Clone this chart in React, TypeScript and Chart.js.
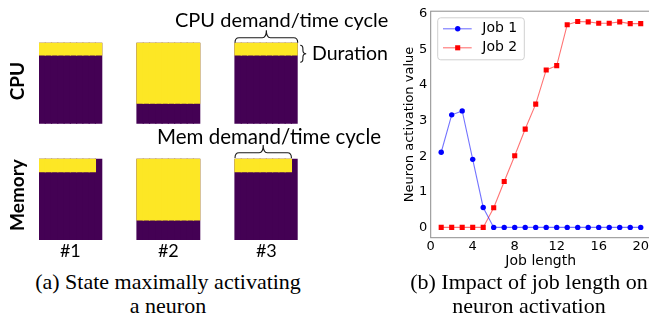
import React, { useEffect, useRef } from 'react';
import { Chart, registerables } from 'chart.js';

Chart.register(...registerables);

// ---------- Panel (a): state image (rows = time cycles, columns = resource units) ----------
const STATES = ['#1', '#2', '#3'];
const RESOURCES = ['CPU', 'Memory'];
const RESOURCE_UNITS = 10;
const TIME_HORIZON = 20;
// occupied time cycles per resource unit (column), for each state
const CPU_USED_ROWS = [
  [3, 3, 3, 3, 3, 3, 3, 3, 3, 3],
  [15, 15, 15, 15, 15, 15, 15, 15, 15, 15],
  [3, 3, 3, 3, 3, 3, 3, 3, 3, 3],
];
const MEM_USED_ROWS = [
  [3, 3, 3, 3, 3, 3, 3, 3, 3, 0],
  [15, 15, 15, 15, 15, 15, 15, 15, 15, 15],
  [3, 3, 3, 3, 3, 3, 3, 3, 3, 0],
];

// ---------- Panel (b): neuron activation vs job length ----------
const JOB_LENGTH = [1, 2, 3, 4, 5, 6, 7, 8, 9, 10, 11, 12, 13, 14, 15, 16, 17, 18, 19, 20];
const JOB1_ACTIVATION = [2.11, 3.16, 3.27, 1.91, 0.56, 0, 0, 0, 0, 0, 0, 0, 0, 0, 0, 0, 0, 0, 0, 0];
const JOB2_ACTIVATION = [0, 0, 0, 0, 0, 0.55, 1.29, 2.01, 2.76, 3.46, 4.42, 4.54, 5.69, 5.78, 5.77, 5.73, 5.73, 5.77, 5.72, 5.72];
const X_TICKS = [0, 4, 8, 12, 16, 20];
const Y_TICKS = [0, 1, 2, 3, 4, 5, 6];

// layout constants (in data units of panel (a))
const STATE_SPACING = 15.63;
const ROW_GAP = 9;

const PURPLE = '#440154';
const YELLOW = '#fde725';

function drawHBrace(ctx: CanvasRenderingContext2D, x0: number, x1: number, yBase: number, h: number) {
  const xm = (x0 + x1) / 2;
  const yMid = yBase - h * 0.4;
  const yTip = yBase - h;
  const q = 4;
  ctx.beginPath();
  ctx.moveTo(x0, yBase);
  ctx.quadraticCurveTo(x0, yMid, x0 + q, yMid);
  ctx.lineTo(xm - q, yMid);
  ctx.quadraticCurveTo(xm, yMid, xm, yTip);
  ctx.quadraticCurveTo(xm, yMid, xm + q, yMid);
  ctx.lineTo(x1 - q, yMid);
  ctx.quadraticCurveTo(x1, yMid, x1, yBase);
  ctx.stroke();
}

function drawVBrace(ctx: CanvasRenderingContext2D, x: number, y0: number, y1: number, w: number) {
  const ym = (y0 + y1) / 2;
  const xMid = x + w * 0.45;
  const xTip = x + w;
  const q = 3.5;
  ctx.beginPath();
  ctx.moveTo(x, y0);
  ctx.quadraticCurveTo(xMid, y0, xMid, y0 + q);
  ctx.lineTo(xMid, ym - q);
  ctx.quadraticCurveTo(xMid, ym, xTip, ym);
  ctx.quadraticCurveTo(xMid, ym, xMid, ym + q);
  ctx.lineTo(xMid, y1 - q);
  ctx.quadraticCurveTo(xMid, y1, x, y1);
  ctx.stroke();
}

const bracePlugin = {
  id: 'braces',
  afterDatasetsDraw(chart: any) {
    const { ctx } = chart;
    const xs = chart.scales.x;
    const ys = chart.scales.y;
    const last = STATES.length - 1;
    const cpuTop = 2 * TIME_HORIZON + ROW_GAP;
    const memTop = TIME_HORIZON;
    const x0 = xs.getPixelForValue(last * STATE_SPACING);
    const x1 = xs.getPixelForValue(last * STATE_SPACING + RESOURCE_UNITS);
    const memCols = MEM_USED_ROWS[last].filter((v) => v > 0).length;
    const xm1 = xs.getPixelForValue(last * STATE_SPACING + memCols);
    ctx.save();
    ctx.strokeStyle = '#1a1a1a';
    ctx.lineWidth = 1.1;
    drawHBrace(ctx, x0, x1, ys.getPixelForValue(cpuTop), 12.5);
    drawHBrace(ctx, x0, xm1, ys.getPixelForValue(memTop) - 1.5, 13);
    const yb0 = ys.getPixelForValue(cpuTop) + 2.5;
    drawVBrace(ctx, x1 + 2.5, yb0, yb0 + 17, 6);
    ctx.restore();
  },
};

const framePlugin = {
  id: 'frame',
  afterDatasetsDraw(chart: any) {
    const { ctx, chartArea: a } = chart;
    ctx.save();
    ctx.strokeStyle = '#8c8c8c';
    ctx.lineWidth = 1;
    ctx.strokeRect(a.left, a.top, a.right - a.left, a.bottom - a.top);
    ctx.restore();
  },
};

const legendPlugin = {
  id: 'boxLegend',
  afterDraw(chart: any) {
    const { ctx, chartArea: a } = chart;
    const bx = a.left + 7;
    const by = a.top + 6.6;
    const bw = 86.6;
    const bh = 42;
    ctx.save();
    ctx.beginPath();
    (ctx as any).roundRect(bx, by, bw, bh, 3);
    ctx.fillStyle = 'rgba(255,255,255,0.85)';
    ctx.fill();
    ctx.strokeStyle = '#d0d0d0';
    ctx.lineWidth = 1;
    ctx.stroke();
    chart.data.datasets.forEach((ds: any, i: number) => {
      const cy = by + 11 + i * 19;
      ctx.strokeStyle = ds.borderColor;
      ctx.lineWidth = ds.borderWidth;
      ctx.beginPath();
      ctx.moveTo(bx + 5.3, cy);
      ctx.lineTo(bx + 34, cy);
      ctx.stroke();
      ctx.fillStyle = ds.pointBackgroundColor;
      const mx = bx + 20;
      if (ds.pointStyle === 'rect') {
        const s = ds.pointRadius * Math.SQRT1_2;
        ctx.fillRect(mx - s, cy - s, 2 * s, 2 * s);
      } else {
        ctx.beginPath();
        ctx.arc(mx, cy, ds.pointRadius, 0, Math.PI * 2);
        ctx.fill();
      }
      ctx.fillStyle = '#000';
      ctx.font = '14px "DejaVu Sans"';
      ctx.textBaseline = 'middle';
      ctx.textAlign = 'left';
      ctx.fillText(ds.label, bx + 44.6, cy);
    });
    ctx.restore();
  },
};

function buildStateData() {
  const free: any[] = [];
  const used: any[] = [];
  const rows = [
    { used: CPU_USED_ROWS, base: TIME_HORIZON + ROW_GAP },
    { used: MEM_USED_ROWS, base: 0 },
  ];
  rows.forEach(({ used: usedRows, base }) => {
    usedRows.forEach((cols, s) => {
      cols.forEach((h, c) => {
        const x = s * STATE_SPACING + c + 0.5;
        free.push({ x, y: [base, base + TIME_HORIZON] });
        if (h > 0) used.push({ x, y: [base + TIME_HORIZON - h, base + TIME_HORIZON] });
      });
    });
  });
  return { free, used };
}

const textBase: React.CSSProperties = {
  position: 'absolute',
  whiteSpace: 'nowrap',
  fontFamily: 'Lato, "Open Sans", sans-serif',
  lineHeight: 1.2,
  color: '#000',
  margin: 0,
};

export default function App() {
  const leftRef = useRef<HTMLCanvasElement>(null);
  const rightRef = useRef<HTMLCanvasElement>(null);

  useEffect(() => {
    const { free, used } = buildStateData();
    const left = new Chart(leftRef.current as HTMLCanvasElement, {
      type: 'bar',
      data: {
        datasets: [
          { label: 'Occupied', data: used, backgroundColor: YELLOW, order: 0, inflateAmount: 0.6 } as any,
          { label: 'Free', data: free, backgroundColor: PURPLE, order: 1, inflateAmount: 0.6 } as any,
        ],
      },
      options: {
        responsive: false,
        animation: false,
        events: [],
        layout: { padding: { left: 39, right: 92.3, top: 42.7, bottom: 0 } },
        datasets: { bar: { grouped: false, barPercentage: 1, categoryPercentage: 1, borderWidth: 0 } } as any,
        plugins: { legend: { display: false }, tooltip: { enabled: false } },
        scales: {
          x: {
            type: 'linear',
            min: 0,
            max: (STATES.length - 1) * STATE_SPACING + RESOURCE_UNITS,
            offset: false,
            grid: { display: false, drawTicks: false },
            border: { display: false },
            afterBuildTicks: (scale: any) => {
              scale.ticks = STATES.map((_, s) => ({ value: s * STATE_SPACING + RESOURCE_UNITS / 2 }));
            },
            afterFit: (scale: any) => {
              scale.height = 22;
            },
            ticks: {
              autoSkip: false,
              maxRotation: 0,
              padding: 0,
              color: '#000',
              font: { family: 'Lato', size: 18 },
              callback: (_v: any, i: number) => STATES[i],
            },
          },
          y: { type: 'linear', display: false, min: 0, max: 2 * TIME_HORIZON + ROW_GAP },
        },
      } as any,
      plugins: [bracePlugin],
    });

    const right = new Chart(rightRef.current as HTMLCanvasElement, {
      type: 'line',
      data: {
        datasets: [
          {
            label: 'Job 1',
            data: JOB_LENGTH.map((x, i) => ({ x, y: JOB1_ACTIVATION[i] })),
            borderColor: 'rgba(0,0,255,0.55)',
            backgroundColor: '#0000ff',
            pointBackgroundColor: '#0000ff',
            pointBorderWidth: 0,
            pointRadius: 2.7,
            pointStyle: 'circle',
            borderWidth: 1.1,
            tension: 0,
          },
          {
            label: 'Job 2',
            data: JOB_LENGTH.map((x, i) => ({ x, y: JOB2_ACTIVATION[i] })),
            borderColor: 'rgba(255,0,0,0.55)',
            backgroundColor: '#ff0000',
            pointBackgroundColor: '#ff0000',
            pointBorderWidth: 0,
            pointRadius: 3.6,
            pointStyle: 'rect',
            borderWidth: 1.1,
            tension: 0,
          },
        ],
      },
      options: {
        responsive: false,
        animation: false,
        events: [],
        layout: { padding: { left: 0, top: 5.7, right: 9.3, bottom: 0 } },
        plugins: { legend: { display: false }, tooltip: { enabled: false } },
        scales: {
          x: {
            type: 'linear',
            min: 0,
            max: 20.95,
            grid: { display: false, drawTicks: false },
            border: { display: false },
            afterBuildTicks: (scale: any) => {
              scale.ticks = X_TICKS.map((v) => ({ value: v }));
            },
            afterFit: (scale: any) => {
              scale.height = 32.3;
            },
            ticks: {
              autoSkip: false,
              maxRotation: 0,
              padding: 1.5,
              color: '#000',
              font: { family: 'DejaVu Sans', size: 13 },
            },
            title: {
              display: true,
              text: 'Job length',
              color: '#000',
              font: { family: 'DejaVu Sans', size: 14 },
              padding: { top: 0, bottom: 0.5 },
            },
          },
          y: {
            type: 'linear',
            min: -0.289,
            max: 6.069,
            grid: { display: false, drawTicks: false },
            border: { display: false },
            afterBuildTicks: (scale: any) => {
              scale.ticks = Y_TICKS.map((v) => ({ value: v }));
            },
            afterFit: (scale: any) => {
              scale.width = 50.7;
            },
            ticks: {
              autoSkip: false,
              padding: 3.4,
              color: '#000',
              font: { family: 'DejaVu Sans', size: 13 },
            },
            title: {
              display: true,
              text: 'Neuron activation value',
              color: '#000',
              font: { family: 'DejaVu Sans', size: 13 },
              padding: { top: 22.2, bottom: 0 },
            },
          },
        },
      } as any,
      plugins: [framePlugin, legendPlugin],
    });

    return () => {
      left.destroy();
      right.destroy();
    };
  }, []);

  const rotated = (cx: number, cy: number): React.CSSProperties => ({
    ...textBase,
    left: cx,
    top: cy,
    fontWeight: 700,
    fontSize: 19,
    transform: 'translate(-50%, -50%) rotate(-90deg)',
  });

  const caption: React.CSSProperties = {
    position: 'absolute',
    textAlign: 'center',
    fontFamily: '"Liberation Serif", "Times New Roman", serif',
    fontSize: 22,
    lineHeight: '24px',
    color: '#000',
    whiteSpace: 'nowrap',
  };

  return (
    <div style={{ position: 'absolute', left: 0, top: 0, width: 649, height: 322, overflow: 'hidden', background: '#fff' }}>
      <canvas ref={leftRef} width={390} height={262} style={{ position: 'absolute', left: 0, top: 0 }} />
      <canvas ref={rightRef} width={280} height={270} style={{ position: 'absolute', left: 380, top: 0 }} />

      <div style={{ ...textBase, left: 175, top: 7, fontSize: 20 }}>CPU demand/time cycle</div>
      <div style={{ ...textBase, left: 312, top: 40.5, fontSize: 19.5 }}>Duration</div>
      <div style={{ ...textBase, left: 157, top: 124, fontSize: 20.5 }}>Mem demand/time cycle</div>
      <div style={rotated(16.5, 81)}>{RESOURCES[0]}</div>
      <div style={rotated(16.5, 195)}>{RESOURCES[1]}</div>

      <div style={{ ...caption, left: 18, width: 300, top: 269.6 }}>
        (a) State maximally activating
        <br />a neuron
      </div>
      <div style={{ ...caption, left: 379, width: 300, top: 269.6 }}>
        (b) Impact of job length on
        <br />
        neuron activation
      </div>
    </div>
  );
}
